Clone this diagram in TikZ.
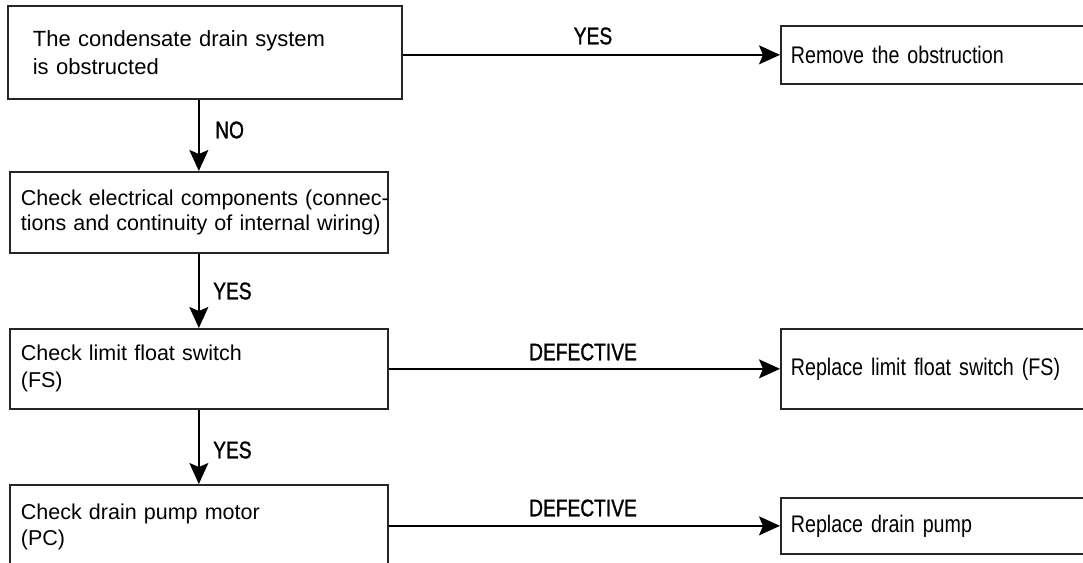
\documentclass[tikz,border=0pt]{standalone}
\usepackage{fontspec}
\setmainfont{Liberation Sans}
\newfontfamily\narrowfont[FakeStretch=0.82]{Liberation Sans}
\newfontfamily\labelfont[FakeStretch=0.8,FakeBold=1.2]{Liberation Sans}
\usetikzlibrary{arrows.meta}
\begin{document}
\begin{tikzpicture}[x=1pt,y=-1pt,
  box/.style={draw=black!85, line width=1.7pt, rectangle, anchor=north west,
    align=left, inner ysep=0pt},
  lbox/.style={box, inner xsep=11pt, minimum width=378pt, text width=356pt,
    font=\fontsize{21.5}{25.5}\selectfont},
  rbox/.style={box, inner xsep=10pt, minimum width=330pt, text width=310pt,
    font=\narrowfont\fontsize{24}{28}\selectfont},
  conn/.style={line width=1.7pt, draw=black,
    -{Stealth[length=21pt,width=19pt,inset=4pt]}},
  lbl/.style={font=\labelfont\fontsize{24}{28}\selectfont, inner sep=0pt}]
\useasboundingbox (0,0) rectangle (1083,562);
\clip (0,0) rectangle (1083,562);

% left column
\node[box, inner xsep=25pt, minimum width=394pt, text width=344pt, minimum height=93pt,
  font=\fontsize{22}{28}\selectfont] (b1) at (7,5)
  {\mbox{The condensate drain system}\\\mbox{is obstructed}};
\node[lbox, minimum height=81pt] (b2) at (9,171)
  {\mbox{Check electrical components (connec-}\\\mbox{tions and continuity of internal wiring)}};
\node[lbox, minimum height=80pt, font=\fontsize{21.5}{27}\selectfont] (b3) at (9,328)
  {\mbox{Check limit float switch}\\\mbox{(FS)}};
\node[lbox, minimum height=84pt, font=\fontsize{21.5}{26}\selectfont] (b4) at (9,484)
  {\mbox{Check drain pump motor}\\\mbox{(PC)}};

% right column
\node[rbox, minimum height=58pt] (r1) at (780,25) {\mbox{Remove the obstruction}};
\node[rbox, minimum height=80pt] (r2) at (780,328) {\mbox{Replace limit float switch (FS)}};
\node[rbox, minimum height=56pt] (r3) at (780,497) {\mbox{Replace drain pump}};

% connectors
\draw[conn] (b1.east |- r1.west) -- (r1.west);
\draw[conn] (b3.east |- r2.west) -- (r2.west);
\draw[conn] (b4.east |- r3.west) -- (r3.west);
\draw[conn] (b1.south -| b2.north) -- (b2.north);
\draw[conn] (b2.south) -- (b3.north);
\draw[conn] (b3.south) -- (b4.north);

% labels
\node[lbl] (l1) at (593,36) {YES};
\node[lbl, anchor=west] (l2) at (215,130) {NO};
\node[lbl, anchor=west] (l3) at (213,291) {YES};
\node[lbl, anchor=west] (l4) at (213,450) {YES};
\node[lbl] (l5) at (583,352) {DEFECTIVE};
\node[lbl] (l6) at (583,508) {DEFECTIVE};
\end{tikzpicture}
\end{document}
